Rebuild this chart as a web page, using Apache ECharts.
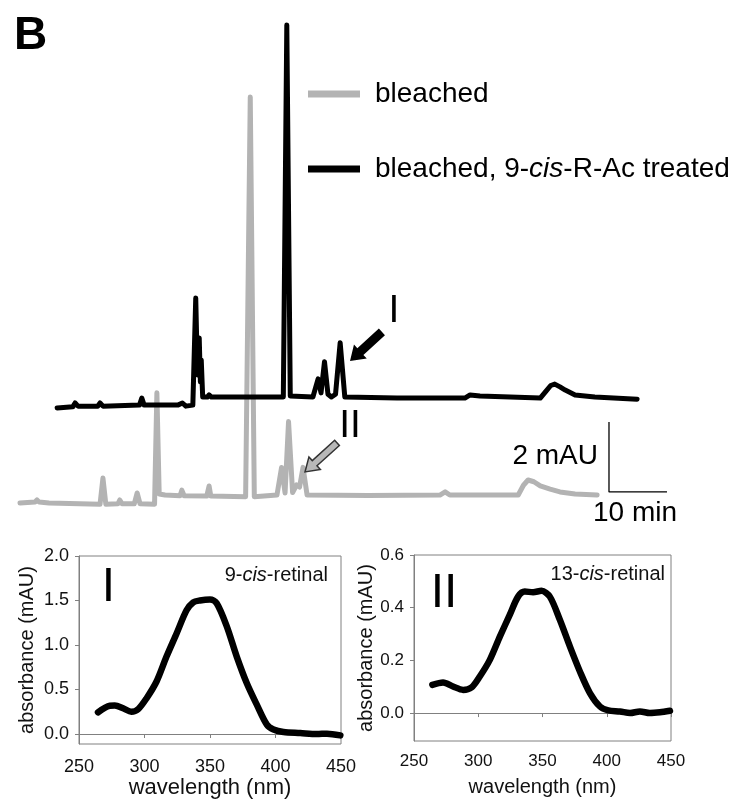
<!DOCTYPE html>
<html>
<head>
<meta charset="utf-8">
<script src="https://cdn.jsdelivr.net/npm/echarts@6/dist/echarts.min.js"></script>
<style>html,body{margin:0;padding:0;background:#fff;}#c{width:755px;height:810px;}</style>
</head>
<body>
<div id="c"></div>
<script>
// ---------- Chromatogram (time in min, signal in mAU; traces offset as drawn) ----------
const grayName = 'bleached';
const blackName = 'bleached, 9-cis-R-Ac treated';
const grayTrace = [[0,0.34],[2.6,0.37],[2.93,0.43],[3.3,0.37],[5,0.34],[13.8,0.31],[14.3,1.06],[14.8,0.31],[16.9,0.32],[17.2,0.43],[17.6,0.32],[19.7,0.32],[20.2,0.63],[20.7,0.32],[23.2,0.31],[23.6,3.49],[24.0,0.6],[25,0.57],[27.6,0.55],[27.9,0.71],[28.3,0.55],[32.2,0.54],[32.6,0.83],[32.9,0.54],[38.9,0.52],[39.7,11.94],[40.4,0.52],[44.3,0.57],[45.1,1.36],[45.7,0.63],[46.3,2.67],[47.0,0.64],[47.7,0.86],[48.2,0.8],[48.8,1.36],[49.5,0.57],[60,0.56],[72.4,0.57],[73.3,0.66],[74.1,0.57],[85.9,0.57],[86.8,0.85],[87.6,1.0],[88.6,0.95],[89.7,0.83],[91.4,0.74],[93.1,0.66],[95.7,0.6],[99.5,0.57]];
const blackTrace = [[6.4,3.06],[9.1,3.09],[9.5,3.2],[10.0,3.11],[13.4,3.11],[13.8,3.2],[14.3,3.11],[20.6,3.14],[21.0,3.34],[21.4,3.14],[27.2,3.14],[28.0,3.2],[28.6,3.11],[29.8,3.14],[30.3,6.2],[30.6,4.0],[30.9,5.06],[31.1,3.8],[31.25,4.43],[31.5,3.37],[32.3,3.37],[32.6,3.43],[33.0,3.37],[38,3.37],[45.4,3.37],[46.0,14.0],[46.6,3.4],[50.5,3.37],[51.4,3.89],[51.9,3.49],[52.5,4.38],[53.1,3.45],[53.7,3.37],[54.4,3.45],[55.2,4.92],[56.0,3.37],[65,3.34],[76.7,3.34],[77.6,3.43],[79.3,3.4],[89.7,3.34],[90.7,3.54],[91.5,3.7],[92.2,3.74],[93.1,3.66],[94.0,3.57],[95.7,3.43],[99.1,3.37],[106.4,3.31]];
// scale bar: 10 min x 2 mAU
const scaleBar = [[101.55,2.66],[101.55,0.66],[111.55,0.66]];
// arrows: [tailX, tailY, tipX, tipY]
const arrowI = [62.4, 5.23, 56.9, 4.40];
const arrowII = [54.66, 2.06, 49.14, 1.23];

// ---------- Absorbance spectra ----------
const nm9 = [264.5,273.5,277.3,283.7,290,295.2,301.5,309.2,316.8,324.5,332.1,337.2,342.3,350,355.1,362.8,370.4,378.1,385.7,393.4,398.5,406.1,418.9,431.6,439.3,449.5];
const abs9 = [0.243,0.318,0.32,0.29,0.25,0.28,0.40,0.59,0.87,1.13,1.39,1.48,1.50,1.51,1.47,1.21,0.87,0.57,0.33,0.105,0.05,0.022,0.011,0.0,0.004,-0.015];
const nm13 = [264.3,272.6,280.4,288.2,294.7,301.2,309,316.8,324.5,331,336.2,342.7,349.2,355.7,363.5,371.3,379.1,386.9,394.7,401.2,410.3,418.1,425.8,433.6,441.4,449.2];
const abs13 = [0.107,0.116,0.101,0.088,0.097,0.139,0.202,0.29,0.373,0.442,0.461,0.459,0.464,0.442,0.354,0.253,0.158,0.076,0.025,0.010,0.006,0,0.006,0,0.003,0.009];
const ticks9 = [0, 0.5, 1.0, 1.5, 2.0];
const ticks13 = [0, 0.2, 0.4, 0.6];
const ticksNm = [250, 300, 350, 400, 450];

const FONT = 'Liberation Sans, Arial, sans-serif';
const GRAY = '#b3b3b3';
const FRAME = '#808080';

function zip(a, b) { return a.map((v, i) => [v, b[i]]); }

function arrowItem(color, stroke, shaftHalf, headHalf, headLen) {
  return function (params, api) {
    const p1 = api.coord([api.value(0), api.value(1)]);
    const p2 = api.coord([api.value(2), api.value(3)]);
    const dx = p2[0] - p1[0], dy = p2[1] - p1[1];
    const len = Math.sqrt(dx * dx + dy * dy);
    const ux = dx / len, uy = dy / len;
    const nx = -uy, ny = ux;
    const bx = p2[0] - ux * headLen, by = p2[1] - uy * headLen;
    const pts = [
      [p1[0] + nx * shaftHalf, p1[1] + ny * shaftHalf],
      [bx + nx * shaftHalf, by + ny * shaftHalf],
      [bx + nx * headHalf, by + ny * headHalf],
      [p2[0], p2[1]],
      [bx - nx * headHalf, by - ny * headHalf],
      [bx - nx * shaftHalf, by - ny * shaftHalf],
      [p1[0] - nx * shaftHalf, p1[1] - ny * shaftHalf]
    ];
    return { type: 'polygon', shape: { points: pts }, style: { fill: color, stroke: stroke, lineWidth: stroke === 'none' ? 0 : 1.5 } };
  };
}

function specAxes(gi, ymin, ymax, ticks, labelSize, nameSize, xNameGap, yNameGap, labelMarginX) {
  return {
    x: {
      type: 'value', gridIndex: gi, min: 250, max: 450,
      axisLine: { show: true, lineStyle: { color: FRAME, width: 1 } },
      axisTick: { show: true, length: 4, lineStyle: { color: FRAME }, customValues: ticksNm },
      axisLabel: { color: '#111', fontSize: labelSize, fontFamily: FONT, margin: labelMarginX, customValues: ticksNm },
      splitLine: { show: false },
      name: 'wavelength (nm)', nameLocation: 'middle', nameGap: xNameGap,
      nameTextStyle: { color: '#111', fontSize: nameSize, fontFamily: FONT }
    },
    y: {
      type: 'value', gridIndex: gi, min: ymin, max: ymax,
      axisLine: { show: true, lineStyle: { color: FRAME, width: 1 } },
      axisTick: { show: true, length: 4, lineStyle: { color: FRAME }, customValues: ticks },
      axisLabel: { color: '#111', fontSize: labelSize, fontFamily: FONT, margin: 10, customValues: ticks,
        formatter: v => v.toFixed(1) },
      splitLine: { show: false },
      name: 'absorbance (mAU)', nameLocation: 'middle', nameGap: yNameGap,
      nameTextStyle: { color: '#111', fontSize: 20, fontFamily: FONT }
    }
  };
}

const a1 = specAxes(1, -0.112, 2.0, ticks9, 18, 22, 30, 42, 14);
const a2 = specAxes(2, -0.106, 0.6, ticks13, 17, 20, 36, 34, 12);

const chart = echarts.init(document.getElementById('c'), null, { renderer: 'canvas' });
chart.setOption({
  animation: false,
  backgroundColor: '#fff',
  textStyle: { fontFamily: FONT },
  grid: [
    { left: 20, top: 18, width: 667, height: 497 },
    { left: 79, top: 556, width: 262, height: 188, show: true, borderColor: FRAME, borderWidth: 1 },
    { left: 414, top: 555, width: 257, height: 186, show: true, borderColor: FRAME, borderWidth: 1 }
  ],
  xAxis: [
    { type: 'value', gridIndex: 0, min: 0, max: 115, show: false },
    a1.x, a2.x
  ],
  yAxis: [
    { type: 'value', gridIndex: 0, min: 0, max: 14.2, show: false },
    a1.y, a2.y
  ],
  legend: {
    data: [grayName, blackName],
    orient: 'vertical', left: 303, top: 75,
    icon: 'rect', itemWidth: 52, itemHeight: 7, itemGap: 47,
    selectedMode: false,
    textStyle: { color: '#000', fontSize: 28, fontFamily: FONT, padding: [0, 0, 0, 10],
      rich: { i: { fontStyle: 'italic', fontSize: 28, fontFamily: FONT, color: '#000' } } },
    formatter: n => n.replace('9-cis-', '9-{i|cis}-')
  },
  series: [
    { name: grayName, type: 'line', xAxisIndex: 0, yAxisIndex: 0, data: grayTrace, showSymbol: false,
      itemStyle: { color: GRAY }, lineStyle: { color: GRAY, width: 5, join: 'round', cap: 'round' }, z: 2 },
    { name: blackName, type: 'line', xAxisIndex: 0, yAxisIndex: 0, data: blackTrace, showSymbol: false,
      itemStyle: { color: '#000' }, lineStyle: { color: '#000', width: 5, join: 'round', cap: 'round' }, z: 3 },
    { name: 'scale', type: 'line', xAxisIndex: 0, yAxisIndex: 0, data: scaleBar, showSymbol: false,
      lineStyle: { color: '#000', width: 1.3 }, itemStyle: { color: '#000' } },
    { name: 'arrowI', type: 'custom', xAxisIndex: 0, yAxisIndex: 0, data: [arrowI],
      renderItem: arrowItem('#000', 'none', 4.5, 9.5, 14), z: 5 },
    { name: 'arrowII', type: 'custom', xAxisIndex: 0, yAxisIndex: 0, data: [arrowII],
      renderItem: arrowItem('#b8b8b8', '#333', 3.5, 8.5, 13), z: 5 },
    { name: '9-cis-retinal', type: 'line', xAxisIndex: 1, yAxisIndex: 1, data: zip(nm9, abs9), showSymbol: false,
      smooth: 0.3, lineStyle: { color: '#000', width: 6.5, join: 'round', cap: 'round' }, itemStyle: { color: '#000' } },
    { name: '13-cis-retinal', type: 'line', xAxisIndex: 2, yAxisIndex: 2, data: zip(nm13, abs13), showSymbol: false,
      smooth: 0.3, lineStyle: { color: '#000', width: 6.5, join: 'round', cap: 'round' }, itemStyle: { color: '#000' } }
  ],
  graphic: [
    { type: 'text', left: 14, top: 13, style: { text: 'B', fontSize: 46, fontWeight: 'bold', fontFamily: FONT, fill: '#000' } },
    { type: 'text', x: 394, y: 311, style: { text: 'I', fontSize: 39, fontFamily: FONT, fill: '#000', align: 'center', verticalAlign: 'middle' } },
    { type: 'text', x: 350, y: 426, style: { text: 'II', fontSize: 39, fontFamily: FONT, fill: '#000', align: 'center', verticalAlign: 'middle' } },
    { type: 'text', x: 598, y: 456, style: { text: '2 mAU', fontSize: 28, fontFamily: FONT, fill: '#000', align: 'right', verticalAlign: 'middle' } },
    { type: 'text', x: 635, y: 513, style: { text: '10 min', fontSize: 28, fontFamily: FONT, fill: '#000', align: 'center', verticalAlign: 'middle' } },
    { type: 'text', x: 108.5, y: 588, style: { text: 'I', fontSize: 48, fontFamily: FONT, fill: '#000', align: 'center', verticalAlign: 'middle' } },
    { type: 'text', x: 444, y: 594, style: { text: 'II', fontSize: 48, fontFamily: FONT, fill: '#000', align: 'center', verticalAlign: 'middle' } },
    { type: 'text', x: 328, y: 575, style: { text: '9-{i|cis}-retinal', fontSize: 20, fontFamily: FONT, fill: '#111', align: 'right', verticalAlign: 'middle',
      rich: { i: { fontStyle: 'italic', fontSize: 20, fontFamily: FONT, fill: '#111' } } } },
    { type: 'text', x: 665, y: 574, style: { text: '13-{i|cis}-retinal', fontSize: 20, fontFamily: FONT, fill: '#111', align: 'right', verticalAlign: 'middle',
      rich: { i: { fontStyle: 'italic', fontSize: 20, fontFamily: FONT, fill: '#111' } } } }
  ]
});
</script>
</body>
</html>
